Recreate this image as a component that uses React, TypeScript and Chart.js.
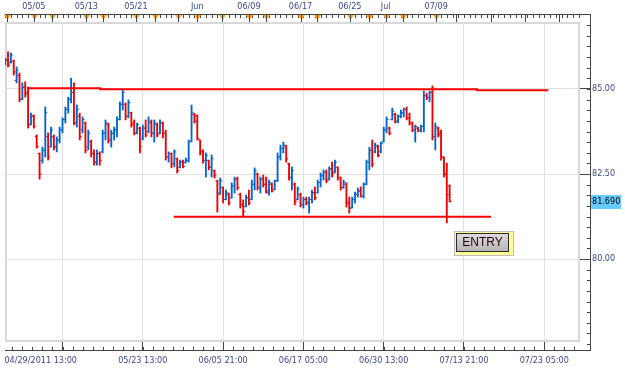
import React, { useEffect, useRef } from 'react';
import { Chart, registerables } from 'chart.js';

Chart.register(...registerables);

// ---- OHLC data (8-hour bars, index 0 = 04/29/2011 13:00) ----
const opens = [
  85.75, 85.85, 85.78, 85.82, 85.25, 85.40, 84.70, 85.05, 84.90, 83.95,
  84.20, 83.60, 83.10, 82.90, 83.20, 83.60, 83.30, 83.60, 83.30, 83.50,
  83.80, 84.10, 84.40, 84.70, 84.90, 84.00, 84.20, 83.80, 84.00, 83.30,
  83.45, 83.10, 82.85, 83.10, 83.15, 83.70, 83.95, 83.50, 83.70, 83.80,
  84.10, 84.55, 84.55, 84.20, 84.30, 84.00, 83.70, 83.85, 83.55, 83.85,
  83.75, 84.00, 83.70, 83.95, 83.70, 84.00, 83.70, 83.00, 83.10, 82.80,
  82.95, 82.70, 82.85, 82.85, 82.90, 83.45, 84.25, 84.20, 83.50, 83.15,
  82.90, 82.90, 82.70, 82.60, 82.30, 81.95, 82.10, 81.75, 81.90, 81.80,
  82.15, 82.35, 81.90, 81.60, 81.55, 81.80, 81.75, 82.20, 82.50, 82.10,
  82.35, 82.20, 81.95, 82.20, 82.05, 82.30, 83.00, 83.25, 83.30, 82.80,
  82.40, 82.20, 81.75, 81.90, 81.60, 81.75, 81.65, 81.75, 81.95, 81.95,
  82.25, 82.45, 82.55, 82.35, 82.65, 82.55, 82.70, 82.40, 82.10, 82.20,
  81.65, 81.50, 81.75, 81.90, 82.00, 81.85, 82.20, 82.85, 83.20, 83.15,
  83.30, 83.15, 83.45, 83.80, 83.85, 84.10, 84.25, 84.05, 84.20, 84.30,
  84.40, 84.15, 84.00, 83.80, 83.85, 83.78, 83.90, 84.80, 84.75, 84.90,
  83.60, 83.85, 83.70, 83.00, 82.50, 82.15,
];
const highs = [
  85.91, 86.09, 86.06, 85.85, 85.65, 85.47, 85.18, 85.21, 85.06, 84.29,
  84.24, 83.65, 83.12, 83.29, 84.47, 83.71, 83.88, 83.65, 83.59, 83.88,
  84.15, 84.47, 84.76, 85.32, 85.18, 84.53, 84.29, 84.18, 84.03, 83.79,
  83.50, 83.21, 83.21, 83.15, 83.79, 84.09, 84.00, 83.79, 83.88, 84.18,
  84.62, 84.97, 84.59, 84.68, 84.32, 84.09, 84.00, 83.88, 83.94, 84.09,
  84.18, 84.09, 84.09, 84.00, 84.09, 84.03, 83.79, 83.15, 83.12, 83.21,
  82.97, 82.91, 82.91, 82.97, 83.50, 84.53, 84.29, 84.24, 83.50, 83.21,
  83.12, 82.91, 83.06, 82.62, 82.32, 82.38, 82.12, 82.03, 81.94, 82.24,
  82.41, 82.41, 81.94, 81.74, 81.88, 82.03, 82.32, 82.68, 82.53, 82.41,
  82.47, 82.41, 82.32, 82.24, 82.32, 83.12, 83.35, 83.44, 83.35, 82.82,
  82.71, 82.24, 82.12, 81.94, 81.82, 81.82, 81.82, 82.03, 82.12, 82.32,
  82.53, 82.62, 82.62, 82.71, 82.85, 82.91, 82.71, 82.41, 82.32, 82.24,
  81.82, 81.82, 81.97, 82.09, 82.12, 82.24, 82.91, 83.29, 83.50, 83.41,
  83.35, 83.44, 83.88, 84.18, 83.88, 84.44, 84.29, 84.24, 84.38, 84.44,
  84.47, 84.29, 84.03, 83.94, 83.88, 83.94, 84.94, 84.88, 84.94, 85.09,
  84.00, 83.88, 83.79, 83.00, 82.82, 82.18,
];
const lows = [
  85.71, 85.65, 85.76, 85.41, 85.18, 84.62, 84.68, 84.76, 83.85, 83.94,
  83.85, 83.26, 82.35, 82.82, 83.00, 82.91, 83.29, 83.21, 83.15, 83.41,
  83.71, 84.00, 84.29, 84.59, 83.94, 83.88, 83.50, 83.71, 83.12, 83.21,
  83.00, 82.76, 82.76, 82.76, 83.12, 83.50, 83.41, 83.29, 83.50, 83.59,
  84.09, 84.38, 84.09, 84.15, 83.88, 83.65, 83.68, 83.12, 83.50, 83.59,
  83.71, 83.59, 83.44, 83.59, 83.68, 83.56, 82.91, 82.85, 82.68, 82.71,
  82.53, 82.68, 82.68, 82.82, 82.85, 83.45, 84.00, 83.50, 83.06, 82.82,
  82.41, 82.62, 82.41, 82.38, 81.38, 81.90, 81.65, 81.74, 81.59, 81.79,
  81.94, 82.03, 81.50, 81.26, 81.53, 81.59, 81.74, 82.03, 82.03, 81.94,
  82.12, 81.94, 81.88, 81.97, 82.03, 82.28, 82.91, 83.12, 82.85, 82.32,
  82.03, 81.59, 81.74, 81.53, 81.50, 81.59, 81.35, 81.65, 81.74, 81.94,
  82.12, 82.32, 82.24, 82.32, 82.41, 82.53, 82.32, 82.03, 82.08, 81.53,
  81.35, 81.50, 81.65, 81.82, 81.82, 81.79, 82.18, 82.62, 82.71, 83.12,
  83.00, 83.12, 83.44, 83.71, 83.65, 84.09, 84.00, 84.00, 84.15, 84.18,
  84.09, 83.94, 83.74, 83.44, 83.74, 83.74, 83.74, 84.68, 84.62, 83.50,
  83.21, 83.59, 82.91, 82.41, 81.06, 81.68,
];
const closes = [
  85.85, 85.70, 86.00, 85.50, 85.55, 84.70, 85.05, 84.85, 83.95, 84.20,
  83.90, 83.30, 82.50, 83.20, 84.30, 83.00, 83.80, 83.30, 83.50, 83.80,
  84.10, 84.40, 84.70, 84.90, 84.00, 84.40, 83.60, 84.10, 83.20, 83.70,
  83.10, 82.85, 83.10, 82.90, 83.70, 84.00, 83.50, 83.70, 83.80, 84.10,
  84.55, 84.90, 84.20, 84.60, 83.95, 83.70, 83.95, 83.30, 83.85, 83.65,
  84.05, 83.70, 84.00, 83.65, 84.00, 83.70, 83.00, 83.10, 82.80, 83.15,
  82.60, 82.85, 82.72, 82.90, 83.45, 84.30, 84.05, 83.55, 83.15, 82.90,
  83.05, 82.70, 82.95, 82.45, 81.90, 82.30, 81.75, 81.95, 81.65, 82.15,
  82.35, 82.10, 81.60, 81.40, 81.80, 81.65, 82.20, 82.60, 82.10, 82.35,
  82.20, 82.00, 82.25, 82.00, 82.30, 83.00, 83.25, 83.35, 82.95, 82.40,
  82.60, 81.70, 82.05, 81.60, 81.75, 81.65, 81.75, 81.95, 81.80, 82.25,
  82.45, 82.55, 82.30, 82.65, 82.50, 82.85, 82.40, 82.10, 82.25, 81.65,
  81.50, 81.75, 81.90, 82.00, 81.85, 82.20, 82.85, 83.20, 82.80, 83.35,
  83.05, 83.40, 83.80, 84.10, 83.70, 84.35, 84.05, 84.20, 84.30, 84.40,
  84.15, 84.00, 83.80, 83.90, 83.78, 83.90, 84.80, 84.75, 84.90, 83.60,
  83.90, 83.65, 83.00, 82.50, 81.90, 81.69,
];

// ---- axes / annotations ----
const topLabelIdx = [10, 28.3, 45.6, 67, 85, 103, 120.2, 132.7, 150.3];
const topLabels = ['05/05', '05/13', '05/21', 'Jun', '06/09', '06/17', '06/25', 'Jul', '07/09'];
const markerIdx = [0.6, 10, 16.2, 28.3, 34.2, 45.6, 52.1, 60.4, 67, 75.7, 85, 90.9, 103, 108.8, 120.2, 126.8, 132.7, 138.6, 150.3];
const extraMajorIdx = [157.2, 169.3, 181.1, 193.2];
const startLabel = '04/29/2011 13:00';
const startLabelIdx = 12.4;
const bottomTickIdx = [20, 48, 76, 104, 132, 160, 188];
const bottomLabels = ['', '05/23 13:00', '06/05 21:00', '06/17 05:00', '06/30 13:00', '07/13 21:00', '07/23 05:00'];
const yTickValues = [80, 82.5, 85];
const resistance = [
  { x: 8.25, y: 85.02 },
  { x: 33.1, y: 84.99 },
  { x: 164.5, y: 84.96 },
  { x: 189.4, y: 84.96 },
];
const support = [
  { x: 58.8, y: 81.24 },
  { x: 169.4, y: 81.24 },
];
const lastPrice = 81.69;
const entryText = 'ENTRY';
const entryIdx = 156.5;
const entryValue = 80.82;

const X_MIN = -0.05;
const X_MAX = 200.45;
const Y_MIN = 77.56;
const Y_MAX = 86.97;

const BLUE = '#0066cc';
const RED = '#ee0000';
const LABEL_COLOR = '#3b4a8c';
const AXIS_COLOR = '#454545';
const GRID_COLOR = '#e0e0e0';
const FONT_FAMILY = "'DejaVu Sans Condensed', 'Liberation Sans', sans-serif";

const decorPlugin = {
  id: 'decor',
  beforeDatasetsDraw(chart: any) {
    const { ctx, chartArea: a } = chart;
    ctx.save();
    ctx.fillStyle = '#d8d8d8';
    // frame (2px light gray)
    ctx.fillRect(a.left, a.top, a.right - a.left, 2);
    ctx.fillRect(a.left, a.bottom - 2, a.right - a.left, 2);
    ctx.fillRect(a.left, a.top, 2, a.bottom - a.top);
    ctx.fillRect(a.right - 2, a.top, 2, a.bottom - a.top);
    ctx.restore();
  },
  afterDraw(chart: any) {
    const { ctx, chartArea: a, scales } = chart;
    const xs = scales.x;
    const ys = scales.y;
    const topY = Math.round(a.top) - 8;
    const rightX = Math.round(a.right) + 10;
    const botY = Math.round(a.bottom) + 8;
    ctx.save();
    ctx.fillStyle = AXIS_COLOR;
    // axis lines
    ctx.fillRect(a.left, topY, rightX - a.left + 1, 1);
    ctx.fillRect(rightX, topY, 1, botY - topY + 1);
    ctx.fillRect(a.left, botY, rightX - a.left, 1);
    // top minor ticks
    for (let v = 0; v <= X_MAX; v += 2) {
      const px = Math.round(xs.getPixelForValue(v));
      ctx.fillRect(px, topY, 1, 4);
    }
    // bottom minor ticks
    for (let v = 2.5; v <= X_MAX; v += 3.5) {
      const px = Math.round(xs.getPixelForValue(v));
      ctx.fillRect(px, botY - 3, 1, 3);
    }
    // right minor ticks
    for (let v = 77.5; v <= Y_MAX; v += 0.3125) {
      const py = Math.round(ys.getPixelForValue(v));
      if (py < a.top - 6 || py > a.bottom + 6) continue;
      ctx.fillRect(rightX - 3, py, 3, 1);
    }
    // top triangles
    ctx.fillStyle = '#ffa51f';
    for (const m of markerIdx) {
      const px = Math.round(xs.getPixelForValue(m)) + 0.5;
      ctx.beginPath();
      ctx.moveTo(px - 3.5, topY + 1);
      ctx.lineTo(px + 3.5, topY + 1);
      ctx.lineTo(px, topY + 6);
      ctx.closePath();
      ctx.fill();
    }
    // top major ticks
    ctx.fillStyle = AXIS_COLOR;
    for (const m of [...markerIdx, ...extraMajorIdx]) {
      const px = Math.round(xs.getPixelForValue(m));
      ctx.fillRect(px, topY, 1, 8);
    }
    // last price label
    const py = Math.round(ys.getPixelForValue(lastPrice));
    ctx.fillStyle = '#66ccff';
    ctx.fillRect(rightX + 1, py - 7, 30, 14);
    ctx.fillStyle = '#000000';
    ctx.font = `9px ${FONT_FAMILY}`;
    ctx.textBaseline = 'middle';
    ctx.textAlign = 'left';
    ctx.fillText(lastPrice.toFixed(3), rightX + 2, py);
    // ENTRY box
    const ex = Math.round(xs.getPixelForValue(entryIdx));
    const ey = Math.round(ys.getPixelForValue(entryValue));
    ctx.fillStyle = '#ffff99';
    ctx.fillRect(ex, ey, 60, 25);
    ctx.strokeStyle = '#bdbdbd';
    ctx.lineWidth = 1;
    ctx.strokeRect(ex + 0.5, ey + 0.5, 59, 24);
    const grad = ctx.createLinearGradient(0, ey + 2, 0, ey + 21);
    grad.addColorStop(0, '#dedede');
    grad.addColorStop(1, '#b4b4b4');
    ctx.fillStyle = grad;
    ctx.fillRect(ex + 2, ey + 2, 53, 19);
    ctx.strokeStyle = '#2a2a2a';
    ctx.strokeRect(ex + 2.5, ey + 2.5, 52, 18);
    ctx.fillStyle = '#240010';
    ctx.font = "12px 'Liberation Sans', Arial, sans-serif";
    ctx.textAlign = 'center';
    ctx.textBaseline = 'middle';
    ctx.fillText(entryText, ex + 28.5, ey + 12);
    ctx.restore();
  },
};

export default function App() {
  const canvasRef = useRef<HTMLCanvasElement | null>(null);

  useEffect(() => {
    const canvas = canvasRef.current;
    if (!canvas) return;
    const colors = closes.map((c, i) => (c >= opens[i] ? BLUE : RED));
    const tickFont = { family: FONT_FAMILY, size: 9 };

    const chart = new Chart(canvas, {
      type: 'bar',
      data: {
        datasets: [
          {
            type: 'line',
            data: resistance,
            stepped: 'before',
            borderColor: '#ff0000',
            borderWidth: 2,
            pointRadius: 0,
            fill: false,
            order: 0,
          } as any,
          {
            type: 'line',
            data: support,
            borderColor: '#ff0000',
            borderWidth: 2,
            pointRadius: 0,
            fill: false,
            order: 0,
          } as any,
          {
            type: 'scatter',
            data: opens.map((o, i) => ({ x: i - 0.35, y: o })),
            pointStyle: 'line',
            pointRadius: 1,
            pointBorderWidth: 1,
            pointBorderColor: colors,
            pointBackgroundColor: colors,
            showLine: false,
            order: 1,
          } as any,
          {
            type: 'scatter',
            data: closes.map((c, i) => ({ x: i + 0.35, y: c })),
            pointStyle: 'line',
            pointRadius: 1,
            pointBorderWidth: 1,
            pointBorderColor: colors,
            pointBackgroundColor: colors,
            showLine: false,
            order: 1,
          } as any,
          {
            type: 'bar',
            data: highs.map((h, i) => ({ x: i, y: [lows[i], h] })),
            backgroundColor: colors,
            borderWidth: 0,
            barThickness: 1.2,
            grouped: false,
            order: 2,
          } as any,
        ],
      },
      options: {
        responsive: false,
        animation: false,
        devicePixelRatio: 1,
        events: [],
        layout: { padding: 0 },
        plugins: {
          legend: { display: false },
          tooltip: { enabled: false },
        },
        scales: {
          x: {
            type: 'linear',
            position: 'bottom',
            min: X_MIN,
            max: X_MAX,
            offset: false,
            afterBuildTicks: (s: any) => {
              s.ticks = [{ value: startLabelIdx }, ...bottomTickIdx.map((v) => ({ value: v }))];
            },
            afterFit: (s: any) => {
              s.height = 26;
              s.paddingLeft = 0;
              s.paddingRight = 0;
            },
            ticks: {
              autoSkip: false,
              maxRotation: 0,
              minRotation: 0,
              padding: 5,
              color: LABEL_COLOR,
              font: tickFont,
              callback: (_v: any, idx: number) => (idx === 0 ? startLabel : bottomLabels[idx - 1]),
            },
            grid: {
              offset: false,
              color: (c: any) => (c.index === 0 ? 'rgba(0,0,0,0)' : GRID_COLOR),
              tickColor: (c: any) => (c.index === 0 ? 'rgba(0,0,0,0)' : AXIS_COLOR),
              tickLength: 8,
              lineWidth: 1,
            },
            border: { display: false },
          },
          x2: {
            type: 'linear',
            position: 'top',
            min: X_MIN,
            max: X_MAX,
            offset: false,
            afterBuildTicks: (s: any) => {
              s.ticks = topLabelIdx.map((v) => ({ value: v }));
            },
            afterFit: (s: any) => {
              s.height = 22;
              s.paddingLeft = 0;
              s.paddingRight = 0;
            },
            ticks: {
              autoSkip: false,
              maxRotation: 0,
              minRotation: 0,
              padding: 10,
              color: LABEL_COLOR,
              font: tickFont,
              callback: (_v: any, idx: number) => topLabels[idx],
            },
            grid: { display: false, drawTicks: false, offset: false },
            border: { display: false },
          },
          y: {
            type: 'linear',
            position: 'right',
            min: Y_MIN,
            max: Y_MAX,
            afterBuildTicks: (s: any) => {
              s.ticks = yTickValues.map((v) => ({ value: v }));
            },
            afterFit: (s: any) => {
              s.width = 45;
              s.paddingTop = 0;
              s.paddingBottom = 0;
            },
            ticks: {
              padding: 2,
              color: LABEL_COLOR,
              font: tickFont,
              callback: (v: any) => Number(v).toFixed(2),
            },
            grid: {
              color: GRID_COLOR,
              tickColor: AXIS_COLOR,
              tickLength: 10,
              lineWidth: 1,
            },
            border: { display: false },
          },
        },
      } as any,
      plugins: [decorPlugin],
    });

    return () => {
      chart.destroy();
    };
  }, []);

  return (
    <div style={{ position: 'fixed', left: 0, top: 0, width: 625, height: 368, background: '#ffffff' }}>
      <canvas ref={canvasRef} width={625} height={368} style={{ display: 'block' }} />
    </div>
  );
}
